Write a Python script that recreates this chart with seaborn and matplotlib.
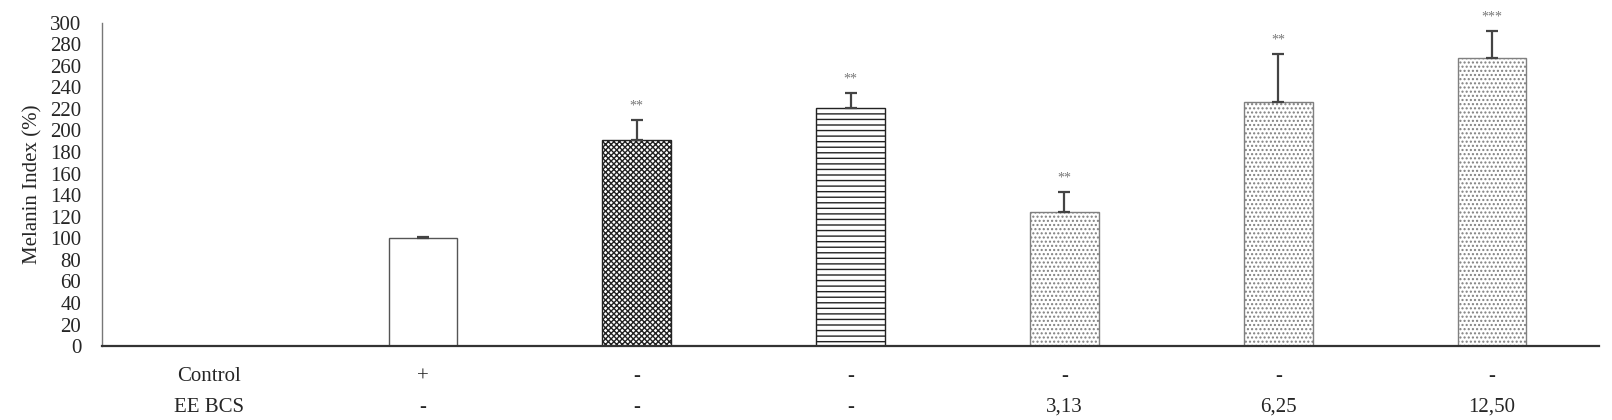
import matplotlib
matplotlib.use("Agg")
import matplotlib.pyplot as plt
import matplotlib.transforms as mtransforms
import seaborn as sns
import pandas as pd

sns.set_theme(style="white")
plt.rcParams['font.family'] = ['Liberation Serif', 'DejaVu Serif']
plt.rcParams['hatch.linewidth'] = 1.0

# chart data
slots = ["blank", "ctrl", "g2", "g3", "ee313", "ee625", "ee1250"]
groups = ["ctrl", "g2", "g3", "ee313", "ee625", "ee1250"]
melanin = [100, 191, 221, 124, 226, 267]
sd = [1, 19, 14, 19, 45, 25]
stars = ["", "**", "**", "**", "**", "***"]
control_row = ["Control", "+", "-", "-", "-", "-", "-"]
eebcs_row = ["EE BCS", "-", "-", "-", "3,13", "6,25", "12,50"]
yticks = list(range(0, 301, 20))

hatches = ["", "xxxxxx", "---", "....", "....", "...."]
edges = ["#555555", "#222222", "#222222", "#808080", "#808080", "#808080"]

df = pd.DataFrame({"group": groups, "value": melanin})

fig = plt.figure(figsize=(16.12, 4.2), dpi=100)
ax = fig.add_axes([0.0633, 0.176, 0.9287, 0.770])

sns.barplot(data=df, x="group", y="value", order=slots, color="white",
            width=0.32, errorbar=None, ax=ax)

bars = [p for p in ax.patches if p.get_height() > 0]
centers = []
for p, h, ec in zip(bars, hatches, edges):
    p.set_facecolor("white")
    p.set_edgecolor(ec)
    p.set_linewidth(1.0)
    p.set_hatch(h)
    centers.append(p.get_x() + p.get_width() / 2)

ax.errorbar(centers, melanin, yerr=[[0] * len(sd), sd], fmt="none",
            ecolor="#444444", elinewidth=1.6, capsize=4, capthick=1.6)

for cx, m, s, st in zip(centers, melanin, sd, stars):
    if st:
        ax.annotate(st, (cx, m + s), xytext=(0, 10), textcoords="offset points",
                    ha="center", va="center", fontsize=10, color="#777777")

ax.set_ylim(0, 300)
ax.set_xlim(-0.5, len(slots) - 0.5)
ax.set_yticks(yticks)
ax.set_yticklabels([str(t) for t in yticks], fontsize=15)
ax.tick_params(axis="y", length=0, pad=15)
ax.set_xticks([])
ax.set_xlabel("")
ax.set_ylabel("Melanin Index (%)", fontsize=15)
ax.yaxis.set_label_coords(-0.040, 0.5)

for side in ["top", "right"]:
    ax.spines[side].set_visible(False)
ax.spines["left"].set_color("#777777")
ax.spines["left"].set_linewidth(1.0)
ax.spines["bottom"].set_color("#333333")
ax.spines["bottom"].set_linewidth(1.6)

trans = mtransforms.blended_transform_factory(ax.transData, ax.transAxes)
for i, (a, b) in enumerate(zip(control_row, eebcs_row)):
    ax.text(i, -0.095, a, transform=trans, ha="center", va="center", fontsize=15)
    ax.text(i, -0.19, b, transform=trans, ha="center", va="center", fontsize=15)

fig.savefig("out.png", dpi=100)
